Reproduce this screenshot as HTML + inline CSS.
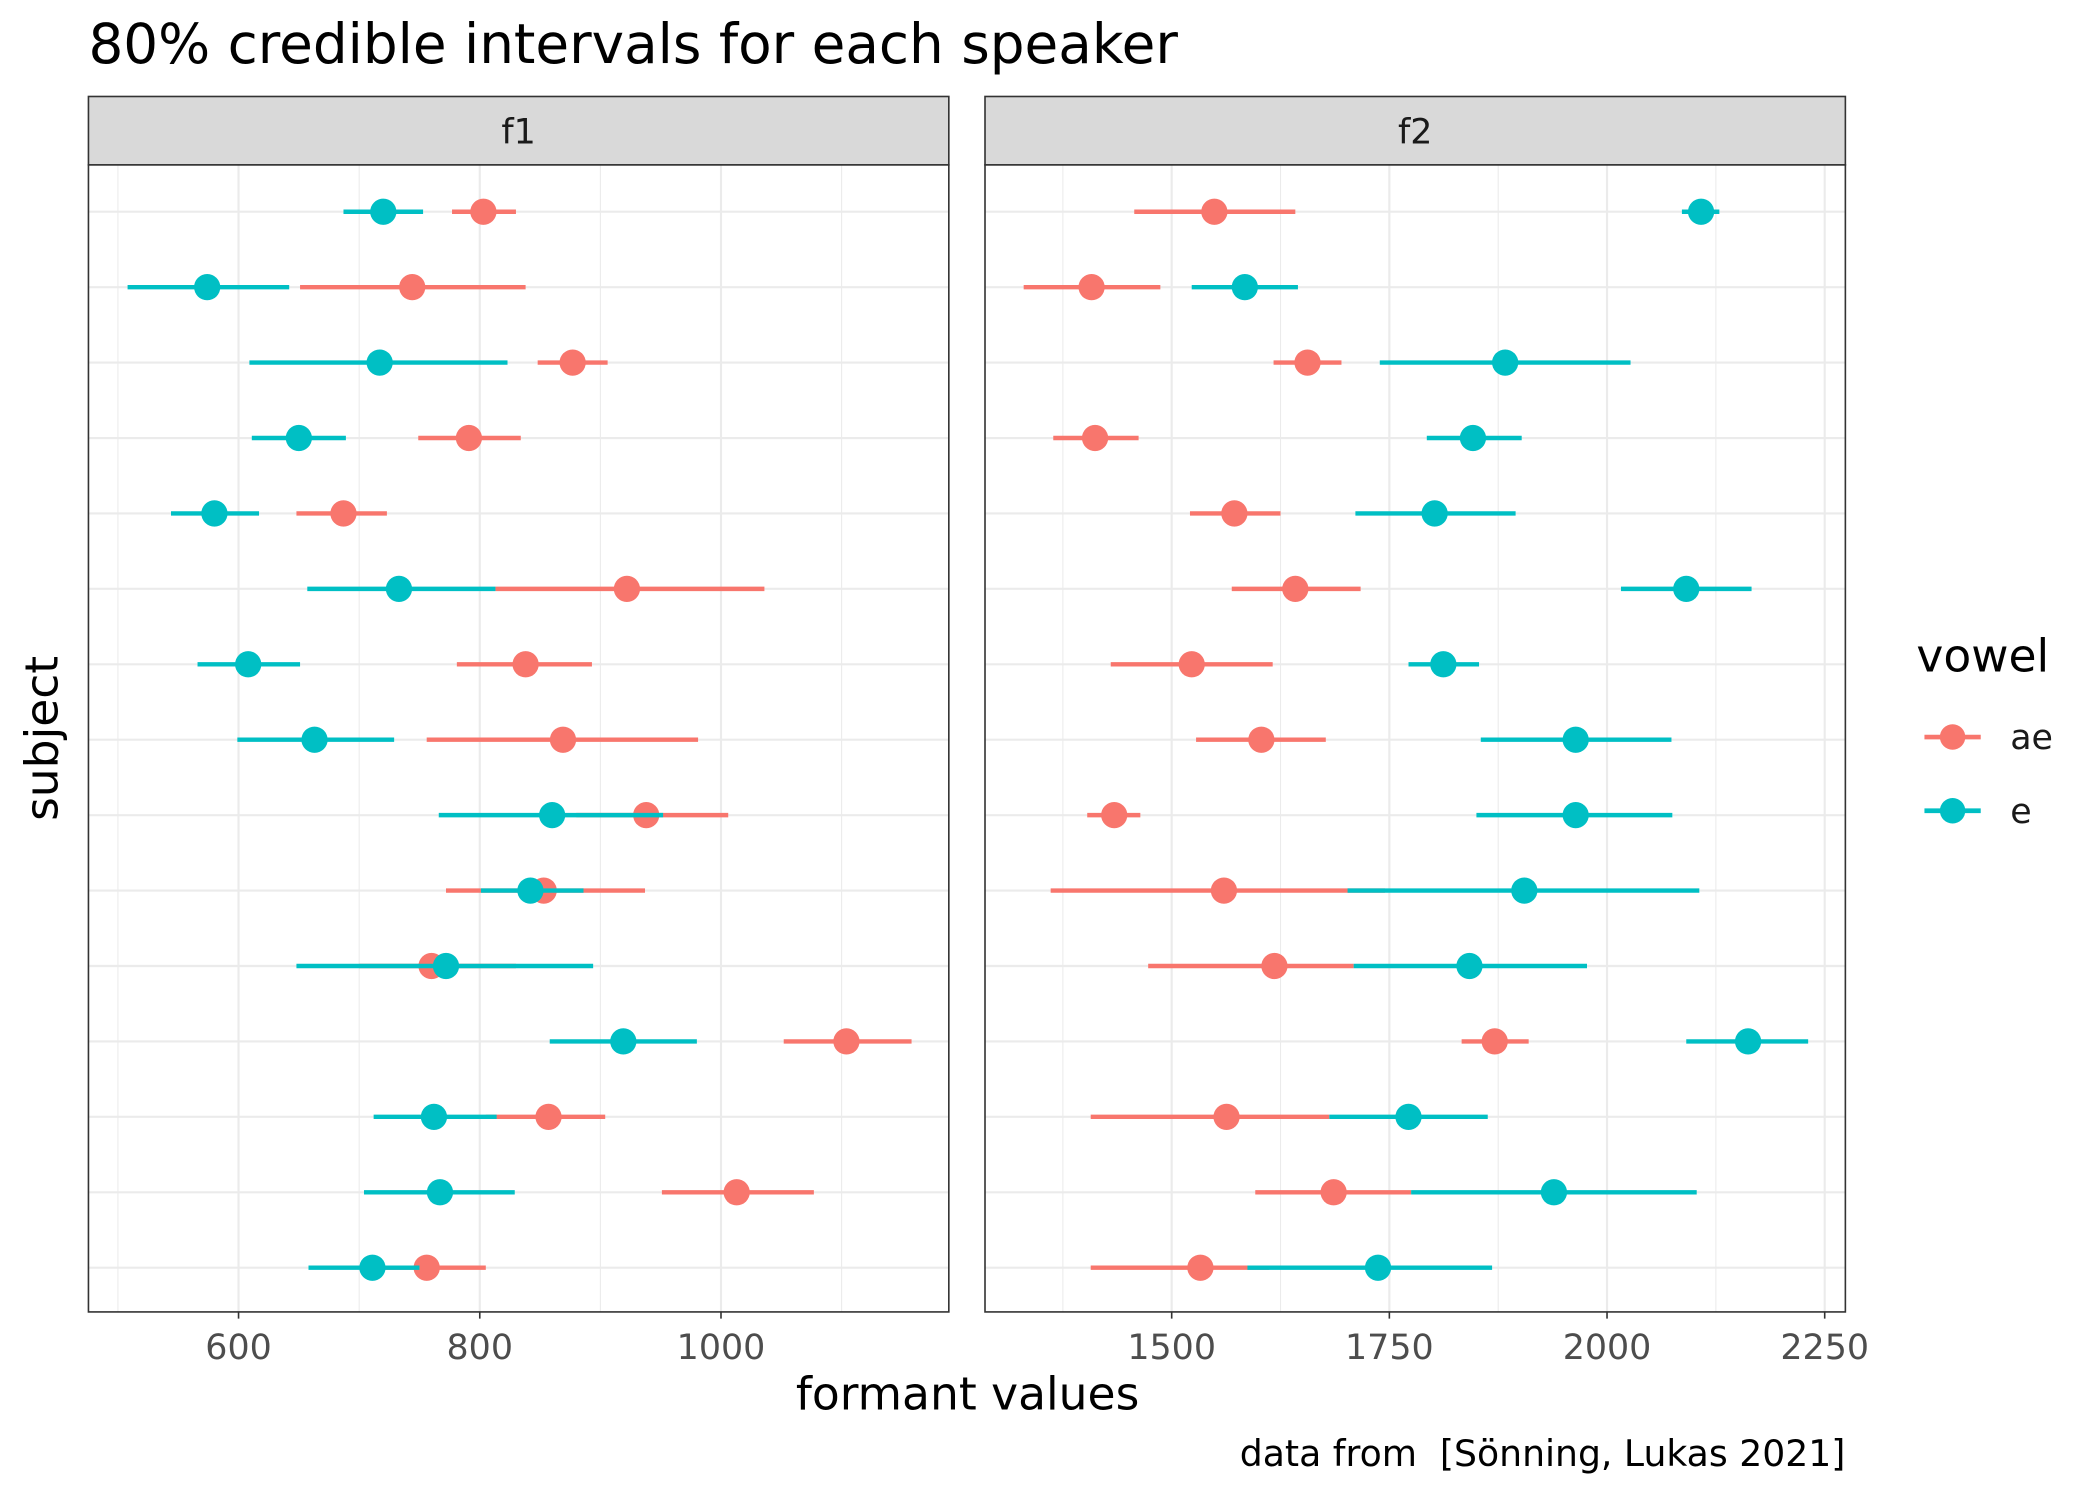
<!DOCTYPE html>
<html><head><meta charset="utf-8"><style>
html,body{margin:0;padding:0;background:#fff}
svg{display:block}
text{font-family:"DejaVu Sans","Liberation Sans",sans-serif;white-space:pre}
</style></head><body>
<svg id="chart" width="2100" height="1499" viewBox="0 0 1567 1118.6" preserveAspectRatio="none" xmlns="http://www.w3.org/2000/svg">
<rect x="0" y="0" width="1567" height="1119" fill="#fff"/>
<text x="66" y="47" font-size="40.9" fill="#000">80% credible intervals for each speaker</text>
<g id="panels"></g>
<text x="722" y="1052" font-size="34" text-anchor="middle" fill="#000">formant values</text>
<text x="0" y="0" font-size="34" text-anchor="middle" fill="#000" transform="translate(43,551) rotate(-90)">subject</text>
<text x="1377" y="1094" font-size="27" text-anchor="end" fill="#000" xml:space="preserve">data from  [Sönning, Lukas 2021]</text>
<g>
<text x="1430" y="501" font-size="34" fill="#000">vowel</text>
<g>
<line x1="1436" x2="1478" y1="550" y2="550" stroke="#F8766D" stroke-width="3.5"/>
<circle cx="1457" cy="550" r="9.5" fill="#F8766D"/>
<text x="1500" y="559" font-size="26" fill="#1a1a1a">ae</text></g>
<g>
<line x1="1436" x2="1478" y1="605" y2="605" stroke="#00BFC4" stroke-width="3.5"/>
<circle cx="1457" cy="605" r="9.5" fill="#00BFC4"/>
<text x="1500" y="614" font-size="26" fill="#1a1a1a">e</text></g>
</g>
</svg>
<script>
const f1AeMid=[803,744,877,791,687,922,838,869,938,853,760,1104,857,1013,756];
const f1AeLo=[777,651,848,749,648,813,781,756,880,772,700,1052,805,951,720];
const f1AeHi=[830,838,906,834,723,1036,893,981,1006,937,830,1158,904,1077,805];
const f1EMid=[720,574,717,650,580,733,608,663,860,842,772,919,762,767,711];
const f1ELo=[687,508,609,611,544,657,566,599,766,801,648,858,712,704,658];
const f1EHi=[753,642,823,689,617,813,651,729,952,886,894,980,814,829,750];
const f2AeMid=[1549,1408,1656,1412,1572,1642,1523,1603,1434,1560,1618,1871,1563,1686,1533];
const f2AeLo=[1457,1330,1617,1364,1521,1569,1430,1528,1403,1361,1473,1833,1407,1596,1407];
const f2AeHi=[1642,1487,1695,1462,1625,1717,1616,1677,1464,1745,1709,1910,1681,1775,1612];
const f2EMid=[2108,1584,1883,1846,1802,2091,1812,1964,1964,1905,1842,2162,1772,1939,1737];
const f2ELo=[2086,1523,1739,1793,1711,2016,1772,1855,1850,1702,1709,2091,1681,1775,1587];
const f2EHi=[2129,1645,2027,1902,1895,2166,1853,2074,2075,2106,1977,2231,1863,2103,1868];
const f1Ticks=[600,800,1000];
const f1Minor=[500,700,900,1100];
const f2Ticks=[1500,1750,2000,2250];
const f2Minor=[1375,1625,1875,2125];
const NS="http://www.w3.org/2000/svg";
const root=document.getElementById('panels');
function mk(tag,attrs,parent){const e=document.createElementNS(NS,tag);for(const k in attrs)e.setAttribute(k,attrs[k]);parent.appendChild(e);return e;}
const panelTop=123,panelBot=979,rowY=i=>158+i*(946-158)/14;
function panel(name,x0,x1,xs,ticks,minor,series){
  const g=mk('g',{},root);
  
  
  minor.forEach(v=>{const l=mk('line',{x1:xs(v),x2:xs(v),y1:panelTop,y2:panelBot,stroke:'#ebebeb','stroke-width':0.8},g);
    
    });
  ticks.forEach(v=>{const l=mk('line',{x1:xs(v),x2:xs(v),y1:panelTop,y2:panelBot,stroke:'#ebebeb','stroke-width':1.6},g);
    
    });
  for(let i=0;i<15;i++){const l=mk('line',{x1:x0,x2:x1,y1:rowY(i),y2:rowY(i),stroke:'#ebebeb','stroke-width':1.6},g);
    
    }
  series.forEach(s=>{
    for(let i=0;i<15;i++){
      const l=mk('line',{x1:xs(s.lo[i]),x2:xs(s.hi[i]),y1:rowY(i),y2:rowY(i),stroke:s.c,'stroke-width':3.3},g);
      
      
      const c=mk('circle',{cx:xs(s.mid[i]),cy:rowY(i),r:9.8,fill:s.c},g);
      
      
    }
  });
  const b=mk('rect',{x:x0,y:panelTop,width:x1-x0,height:panelBot-panelTop,fill:'none',stroke:'#333','stroke-width':1.2},g);
  
  
  const st=mk('rect',{x:x0,y:72,width:x1-x0,height:51,fill:'#d9d9d9',stroke:'#333','stroke-width':1.2},g);
  
  
  const t=mk('text',{x:(x0+x1)/2,y:107,'font-size':26,'text-anchor':'middle',fill:'#1a1a1a'},g);
  t.textContent=name;
  
  
  ticks.forEach(v=>{
    const tk=mk('line',{x1:xs(v),x2:xs(v),y1:panelBot,y2:panelBot+5,stroke:'#333','stroke-width':1.2},g);
    
    
    const tl=mk('text',{x:xs(v),y:1014,'font-size':26,'text-anchor':'middle',fill:'#4d4d4d'},g);
    tl.textContent=v;
    
    
  });
}
panel('f1',66,708,v=>178+(v-600)*0.9,f1Ticks,f1Minor,[
  {n:'ae',c:'#F8766D',mid:f1AeMid,lo:f1AeLo,hi:f1AeHi},
  {n:'e',c:'#00BFC4',mid:f1EMid,lo:f1ELo,hi:f1EHi}]);
panel('f2',735,1377,v=>874.3+(v-1500)*0.6497,f2Ticks,f2Minor,[
  {n:'ae',c:'#F8766D',mid:f2AeMid,lo:f2AeLo,hi:f2AeHi},
  {n:'e',c:'#00BFC4',mid:f2EMid,lo:f2ELo,hi:f2EHi}]);
</script>
</body></html>
